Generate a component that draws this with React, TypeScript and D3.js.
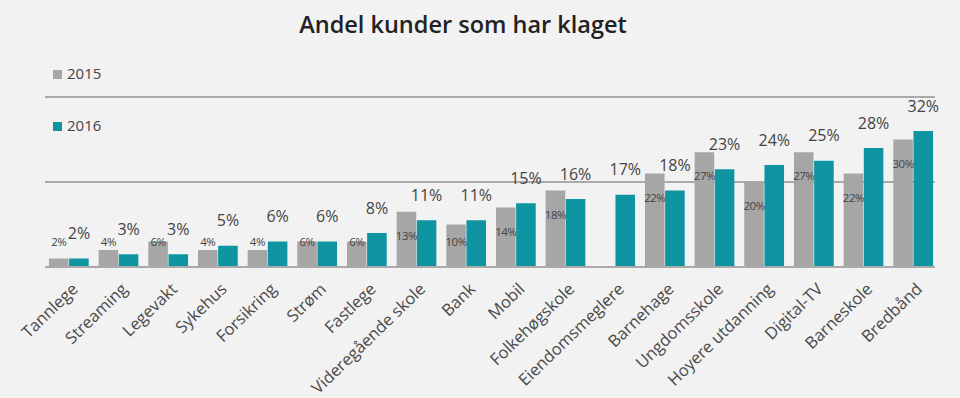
import React from 'react';
import * as d3 from 'd3';

const categories = [
  'Tannlege', 'Streaming', 'Legevakt', 'Sykehus', 'Forsikring', 'Strøm', 'Fastlege',
  'Videregående skole', 'Bank', 'Mobil', 'Folkehøgskole', 'Eiendomsmeglere', 'Barnehage',
  'Ungdomsskole', 'Hoyere utdanning', 'Digital-TV', 'Barneskole', 'Bredbånd',
];
const values2015: (number | null)[] = [2, 4, 6, 4, 4, 6, 6, 13, 10, 14, 18, null, 22, 27, 20, 27, 22, 30];
const values2016 = [2, 3, 3, 5, 6, 6, 8, 11, 11, 15, 16, 17, 18, 23, 24, 25, 28, 32];
const gridTicks = [20, 40];

const width = 960;
const height = 398;
const grey = '#a6a6a6';
const teal = '#0e95a1';
const textColor = '#444';

export default function App() {
  const x = d3.scaleBand().domain(categories).range([44, 938]).paddingInner(0.2).paddingOuter(0.1);
  const sub = d3.scaleBand().domain(['2015', '2016']).range([0, x.bandwidth()]).paddingInner(0.03);
  const y = d3.scaleLinear().domain([0, 40]).range([267, 97]);

  const base = y(0);

  return (
    <svg width={width} height={height} style={{ position: 'absolute', left: 0, top: 0, display: 'block', background: '#f2f2f2' }}
      fontFamily="'Open Sans', sans-serif">
      <text x={463} y={25} dy="0.35em" textAnchor="middle" fontSize={23.5} fontWeight={600} fill="#222">
        Andel kunder som har klaget
      </text>

      {/* legend */}
      <rect x={53} y={70} width={9} height={9} fill={grey} />
      <text x={67} y={74} dy="0.35em" fontSize={15} fill={textColor}>2015</text>
      <rect x={53} y={122} width={9} height={9} fill={teal} />
      <text x={67} y={126} dy="0.35em" fontSize={15} fill={textColor}>2016</text>

      {/* grid */}
      {gridTicks.map(t => (
        <line key={t} x1={45} x2={935} y1={y(t)} y2={y(t)} stroke="#aaa" strokeWidth={2} />
      ))}

      {categories.map((c, i) => {
        const x0 = x(c)!;
        const v15 = values2015[i];
        const v16 = values2016[i];
        const x15 = x0 + sub('2015')!;
        const x16 = x0 + sub('2016')!;
        const bw = sub.bandwidth();
        return (
          <g key={c}>
            {v15 != null && (
              <rect x={x15} y={y(v15)} width={bw} height={base - y(v15)} fill={grey} />
            )}
            <rect x={x16} y={y(v16)} width={bw} height={base - y(v16)} fill={teal} />
          </g>
        );
      })}

      <line x1={45} x2={935} y1={base} y2={base} stroke="#aaa" strokeWidth={2} />

      {categories.map((c, i) => {
        const x0 = x(c)!;
        const v15 = values2015[i];
        const v16 = values2016[i];
        const bw = sub.bandwidth();
        const cx15 = x0 + sub('2015')! + bw / 2;
        const cx16 = x0 + sub('2016')! + bw / 2;
        return (
          <g key={c + '-lbl'}>
            {v15 != null && (
              <text x={cx15} y={Math.min(y(v15) + 24, base - 25)} dy="0.35em" textAnchor="middle"
                fontSize={11.5} letterSpacing={-0.5} fill={textColor}>{v15}%</text>
            )}
            <text x={cx16} y={y(v16) - 25} dy="0.35em" textAnchor="middle" fontSize={16} fill={textColor}>{v16}%</text>
          </g>
        );
      })}

      {categories.map(c => {
        const cx = x(c)! + x.bandwidth() / 2 + 2;
        return (
          <text key={c + '-ax'} transform={`translate(${cx},${282}) rotate(-44)`} textAnchor="end"
            dy="0.7em" fontSize={16.5} fill="#4a4a4a">{c}</text>
        );
      })}
    </svg>
  );
}
